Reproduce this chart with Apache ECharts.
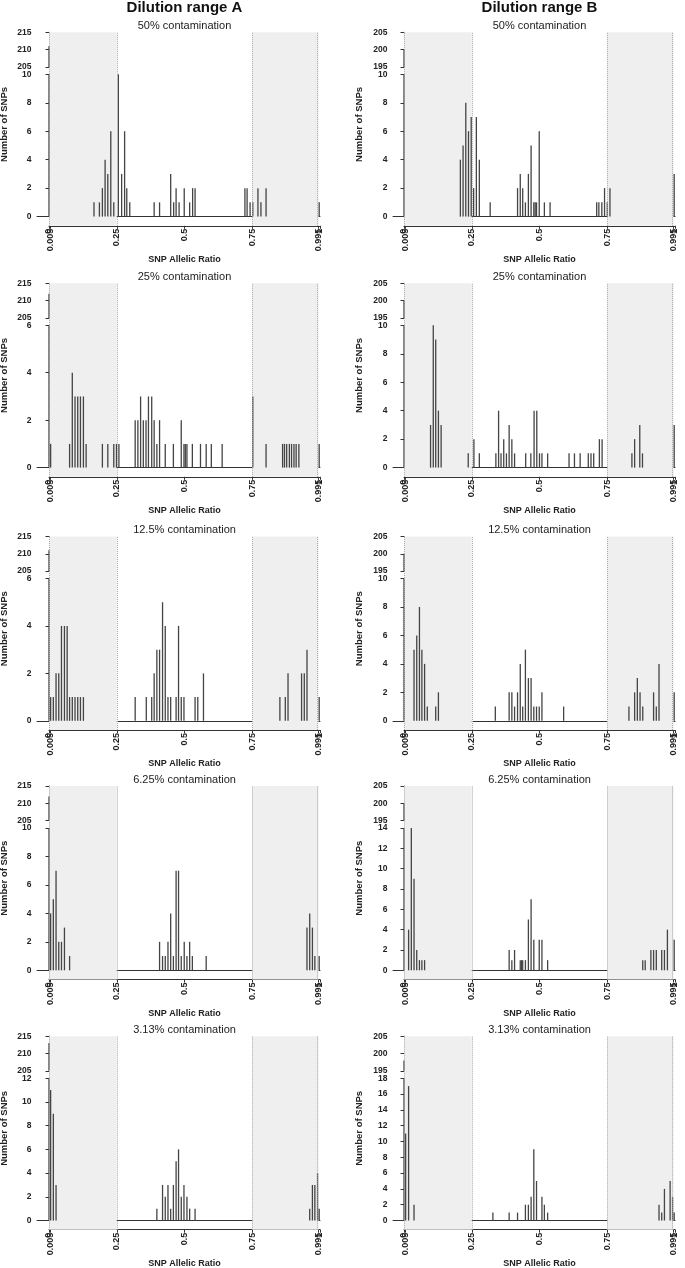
<!DOCTYPE html>
<html>
<head>
<meta charset="utf-8">
<script src="https://cdn.jsdelivr.net/npm/echarts@6/dist/echarts.min.js"></script>
<style>html,body{margin:0;padding:0;background:#fff}#c{width:685px;height:1268px}</style>
</head>
<body>
<div id="c"></div>
<script>
// ---------- texts / ticks ----------
const columnTitles = ['Dilution range A', 'Dilution range B'];
const panelTitles = ['50% contamination', '25% contamination', '12.5% contamination', '6.25% contamination', '3.13% contamination'];
const xMainTicks = [0, 0.25, 0.5, 0.75, 1];
const xMainLabels = ['0', '0.25', '0.5', '0.75', '1'];
const xEdgeTicks = [0.005, 0.995];
const xEdgeLabels = ['0.005', '0.995'];
const shadeRanges = [[0, 0.25], [0.75, 0.995]];
const guideLines = [0, 0.25, 0.75, 0.995];
const upperRangeA = [205, 215];
const upperRangeB = [195, 205];
const lowerMaxA = [10, 6, 6, 10, 12];
const lowerMaxB = [10, 10, 10, 14, 18];

// ---------- data: [SNP allelic ratio, number of SNPs] ----------
const a50 = [[0,211],[0.166,1],[0.186,1],[0.197,2],[0.207,4],[0.217,3],[0.228,6],[0.239,1],[0.256,10],[0.268,3],[0.279,6],[0.287,2],[0.298,1],[0.388,1],[0.408,1],[0.449,3],[0.46,1],[0.469,2],[0.48,1],[0.499,2],[0.519,1],[0.53,2],[0.539,2],[0.723,2],[0.731,2],[0.742,1],[0.752,1],[0.771,2],[0.782,1],[0.801,2],[0.997,1]];
const b50 = [[0,200],[0.208,4],[0.218,5],[0.228,8],[0.238,6],[0.248,7],[0.257,2],[0.267,7],[0.278,4],[0.318,1],[0.419,2],[0.429,3],[0.438,2],[0.448,1],[0.459,3],[0.469,5],[0.479,1],[0.484,1],[0.489,1],[0.499,6],[0.518,1],[0.539,1],[0.711,1],[0.719,1],[0.73,1],[0.74,2],[0.75,1],[0.76,2],[0.997,3]];
const a25 = [[0,212],[0.006,1],[0.076,1],[0.086,4],[0.096,3],[0.106,3],[0.116,3],[0.127,3],[0.137,1],[0.197,1],[0.217,1],[0.239,1],[0.249,1],[0.258,1],[0.318,2],[0.328,2],[0.338,3],[0.348,2],[0.358,2],[0.367,3],[0.379,3],[0.388,2],[0.398,1],[0.408,2],[0.429,1],[0.459,1],[0.488,2],[0.498,1],[0.503,1],[0.509,1],[0.529,1],[0.559,1],[0.58,1],[0.599,1],[0.639,1],[0.752,3],[0.801,1],[0.862,1],[0.869,1],[0.877,1],[0.887,1],[0.895,1],[0.904,1],[0.912,1],[0.922,1],[0.997,1]];
const b25 = [[0,200],[0.098,3],[0.108,10],[0.117,9],[0.127,4],[0.137,3],[0.237,1],[0.258,2],[0.278,1],[0.339,1],[0.349,4],[0.358,1],[0.368,2],[0.378,1],[0.388,3],[0.398,2],[0.408,1],[0.449,1],[0.468,1],[0.48,4],[0.49,4],[0.5,1],[0.509,1],[0.53,1],[0.609,1],[0.629,1],[0.65,1],[0.68,1],[0.69,1],[0.7,1],[0.721,2],[0.731,2],[0.841,1],[0.851,2],[0.87,3],[0.88,1],[0.997,3]];
const a12 = [[0,211],[0.006,1],[0.016,1],[0.026,2],[0.036,2],[0.046,4],[0.057,4],[0.067,4],[0.076,1],[0.086,1],[0.096,1],[0.106,1],[0.116,1],[0.127,1],[0.318,1],[0.359,1],[0.379,1],[0.388,2],[0.398,3],[0.408,3],[0.419,5],[0.429,4],[0.439,1],[0.449,1],[0.469,1],[0.478,4],[0.488,1],[0.498,1],[0.539,1],[0.549,1],[0.57,2],[0.852,1],[0.872,1],[0.882,2],[0.932,2],[0.942,2],[0.952,3],[0.997,1]];
const b12 = [[0,200],[0.037,5],[0.047,6],[0.057,8],[0.066,5],[0.076,4],[0.086,1],[0.117,1],[0.127,2],[0.337,1],[0.388,2],[0.398,2],[0.408,1],[0.419,2],[0.429,4],[0.438,1],[0.448,5],[0.459,3],[0.469,3],[0.479,1],[0.489,1],[0.499,1],[0.509,2],[0.589,1],[0.83,1],[0.851,2],[0.861,3],[0.871,2],[0.881,1],[0.921,2],[0.931,1],[0.941,4],[0.997,2]];
const a6 = [[0,212],[0.006,4],[0.016,5],[0.026,7],[0.036,2],[0.046,2],[0.057,3],[0.076,1],[0.408,2],[0.419,1],[0.429,1],[0.439,2],[0.449,4],[0.459,1],[0.469,7],[0.478,7],[0.488,1],[0.499,2],[0.509,1],[0.519,2],[0.529,1],[0.58,1],[0.952,3],[0.962,4],[0.972,3],[0.981,1],[0.997,1]];
const b6 = [[0,200],[0.017,4],[0.027,14],[0.037,9],[0.047,2],[0.057,1],[0.066,1],[0.076,1],[0.388,2],[0.398,1],[0.408,2],[0.429,1],[0.434,1],[0.438,1],[0.448,1],[0.459,5],[0.469,7],[0.479,3],[0.499,3],[0.509,3],[0.53,1],[0.881,1],[0.89,1],[0.911,2],[0.921,2],[0.931,2],[0.951,2],[0.961,2],[0.972,4],[0.997,3]];
const a3 = [[0,213],[0.006,11],[0.016,9],[0.026,3],[0.398,1],[0.419,3],[0.429,2],[0.439,3],[0.449,1],[0.459,3],[0.469,5],[0.478,6],[0.488,2],[0.498,3],[0.509,2],[0.519,1],[0.539,1],[0.962,1],[0.972,3],[0.981,3],[0.991,4],[0.997,1]];
const b3 = [[0,198],[0.006,11],[0.017,17],[0.037,2],[0.328,1],[0.388,1],[0.419,1],[0.448,2],[0.459,2],[0.469,3],[0.479,9],[0.489,5],[0.509,3],[0.518,2],[0.53,1],[0.941,2],[0.951,1],[0.961,4],[0.982,5],[0.991,3],[0.997,1]];

const dataA = [a50, a25, a12, a6, a3];
const dataB = [b50, b25, b12, b6, b3];

// ---------- layout (pixels) ----------
const colX0 = [49, 404];
const colPad = [12, 11];
const unitPx = 271;
const rowTop = [32.3, 283.3, 536.5, 786, 1036.2];
const upperH = 34.6;
const lowerOff = 42;
const zeroOff = 184.3;
const axisOff = 9.2;
const barColor = '#444';
const axisColor = '#333';
const textColor = '#222';
const FONT = 'Liberation Sans, Arial, sans-serif';

const option = {
  animation: false,
  backgroundColor: '#fff',
  textStyle: { fontFamily: FONT },
  title: [], grid: [], xAxis: [], yAxis: [], series: []
};

columnTitles.forEach((t, c) => {
  option.title.push({
    text: t, left: colX0[c] + unitPx / 2, top: 0, textAlign: 'center', padding: 0,
    textStyle: { fontSize: 15, fontWeight: 'bold', color: '#111', fontFamily: FONT }
  });
});

const panels = [];
for (let r = 0; r < 5; r++) {
  panels.push({ col: 0, row: r, title: panelTitles[r], data: dataA[r], upper: upperRangeA, lowerMax: lowerMaxA[r] });
  panels.push({ col: 1, row: r, title: panelTitles[r], data: dataB[r], upper: upperRangeB, lowerMax: lowerMaxB[r] });
}

const yLabelStyle = { fontSize: 8.5, fontWeight: 'bold', color: textColor, margin: 5.5, showMinLabel: true, showMaxLabel: true };
const lookup = (vals, labs) => v => { const i = vals.findIndex(u => Math.abs(u - v) < 1e-9); return i >= 0 ? labs[i] : ''; };

function xLabelAxis(gridIndex, ticks, labels, withLine, withName) {
  const ax = {
    gridIndex, type: 'value', min: 0, max: 1, position: 'bottom', offset: 0,
    axisLine: { show: withLine, onZero: false, lineStyle: { color: axisColor, width: 1 } },
    axisTick: { show: true, customValues: ticks, length: 3, lineStyle: { color: axisColor } },
    axisLabel: {
      show: true, customValues: ticks, rotate: 90, fontSize: 9, fontWeight: 'bold', color: textColor, margin: 3,
      showMinLabel: true, showMaxLabel: true, formatter: lookup(ticks, labels)
    },
    splitLine: { show: false }
  };
  if (withName) {
    ax.name = 'SNP Allelic Ratio'; ax.nameLocation = 'middle'; ax.nameGap = 29.5;
    ax.nameTextStyle = { fontSize: 9, fontWeight: 'bold', color: textColor };
  }
  return ax;
}

panels.forEach(p => {
  const x0 = colX0[p.col], pad = colPad[p.col], top = rowTop[p.row];
  option.title.push({
    text: p.title, left: x0 + unitPx / 2, top: top - 12, textAlign: 'center', padding: 0,
    textStyle: { fontSize: 11, fontWeight: 'normal', color: textColor, fontFamily: FONT }
  });

  // background grid: shading, guide lines, x axis
  const gBg = option.grid.length;
  option.grid.push({ left: x0, top: top, width: unitPx, height: zeroOff + axisOff, outerBoundsMode: 'none' });
  const xBg = option.xAxis.length;
  option.xAxis.push(xLabelAxis(gBg, xMainTicks, xMainLabels, true, true));
  option.xAxis.push(xLabelAxis(gBg, xEdgeTicks, xEdgeLabels, false, false));
  const yBg = option.yAxis.length;
  option.yAxis.push({ gridIndex: gBg, type: 'value', min: 0, max: 1, show: false });
  option.series.push({
    type: 'line', xAxisIndex: xBg, yAxisIndex: yBg, data: [], silent: true, z: 1,
    markArea: { silent: true, itemStyle: { color: '#efefef' }, data: shadeRanges.map(r => [{ xAxis: r[0] }, { xAxis: r[1] }]) },
    markLine: {
      silent: true, symbol: 'none', label: { show: false },
      lineStyle: { color: '#a8a8a8', type: 'dotted', width: 1 },
      data: guideLines.map(v => ({ xAxis: v }))
    }
  });

  // name grid for y-axis title
  const gName = option.grid.length;
  option.grid.push({ left: x0, top: top, width: unitPx, height: zeroOff, outerBoundsMode: 'none' });
  option.xAxis.push({ gridIndex: gName, type: 'value', min: 0, max: 1, show: false });
  option.yAxis.push({
    gridIndex: gName, type: 'value', min: 0, max: 1, show: true,
    axisLine: { show: false }, axisTick: { show: false }, axisLabel: { show: false }, splitLine: { show: false },
    name: 'Number of SNPs', nameLocation: 'middle', nameGap: 40,
    nameTextStyle: { fontSize: 9.5, fontWeight: 'bold', color: textColor }
  });

  // upper (broken) segment
  const gUp = option.grid.length;
  option.grid.push({ left: x0 - pad, top: top, width: unitPx + pad, height: upperH, outerBoundsMode: 'none' });
  const xUp = option.xAxis.length;
  option.xAxis.push({ gridIndex: gUp, type: 'value', min: -pad / unitPx, max: 1, show: false });
  const yUp = option.yAxis.length;
  option.yAxis.push({
    gridIndex: gUp, type: 'value', min: p.upper[0], max: p.upper[1], interval: 5,
    axisLine: { show: true, lineStyle: { color: axisColor, width: 1 } },
    axisTick: { show: true, length: 3.5, lineStyle: { color: axisColor } },
    axisLabel: yLabelStyle, splitLine: { show: false }
  });
  option.series.push({
    type: 'bar', xAxisIndex: xUp, yAxisIndex: yUp, data: p.data, barWidth: 1.3,
    itemStyle: { color: barColor }, clip: true, silent: true, z: 3
  });

  // lower segment
  const gLo = option.grid.length;
  option.grid.push({ left: x0 - pad, top: top + lowerOff, width: unitPx + pad, height: zeroOff - lowerOff, outerBoundsMode: 'none' });
  const xLo = option.xAxis.length;
  option.xAxis.push({
    gridIndex: gLo, type: 'value', min: -pad / unitPx, max: 1, show: true,
    axisLine: { show: true, onZero: false, lineStyle: { color: axisColor, width: 1 } },
    axisTick: { show: false }, axisLabel: { show: false }, splitLine: { show: false }
  });
  const yLo = option.yAxis.length;
  option.yAxis.push({
    gridIndex: gLo, type: 'value', min: 0, max: p.lowerMax, interval: 2,
    axisLine: { show: true, lineStyle: { color: axisColor, width: 1 } },
    axisTick: { show: true, length: 3.5, lineStyle: { color: axisColor } },
    axisLabel: yLabelStyle, splitLine: { show: false }
  });
  option.series.push({
    type: 'bar', xAxisIndex: xLo, yAxisIndex: yLo, data: p.data, barWidth: 1.3,
    itemStyle: { color: barColor }, clip: true, silent: true, z: 3
  });
});

const chart = echarts.init(document.getElementById('c'), null, { renderer: 'canvas' });
chart.setOption(option);
</script>
</body>
</html>
